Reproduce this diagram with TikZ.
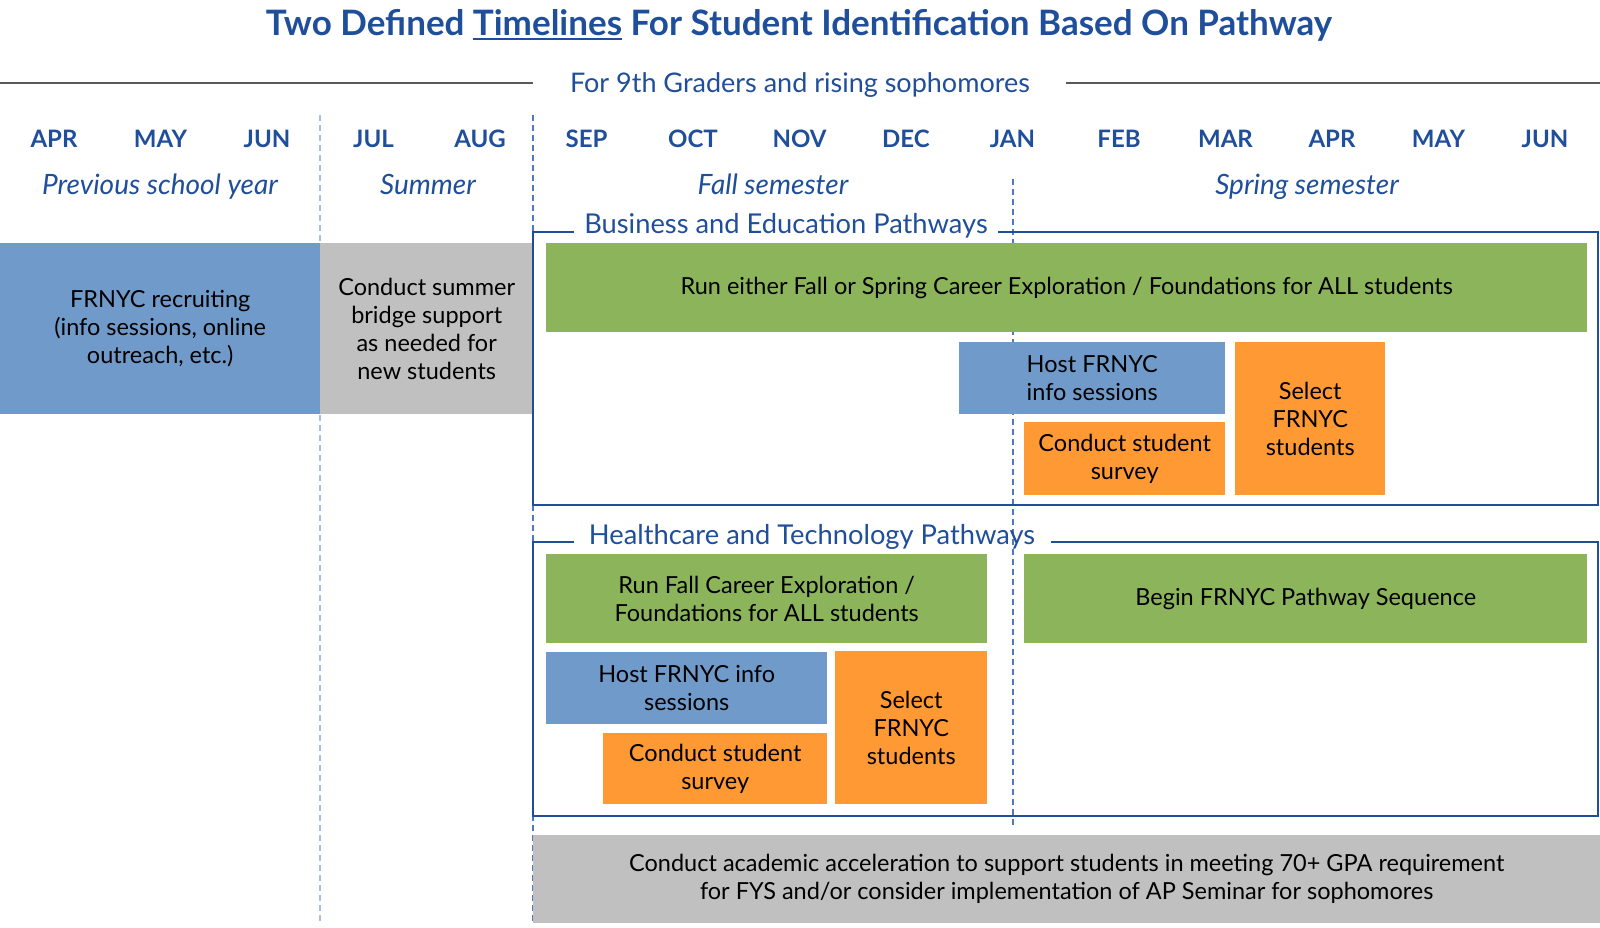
\documentclass[tikz,border=0pt]{standalone}
\usepackage{fontspec}
\setmainfont{Lato}
\definecolor{dblue}{RGB}{31,78,154}
\definecolor{bluebox}{RGB}{112,154,202}
\definecolor{graybox}{RGB}{192,192,192}
\definecolor{greenbox}{RGB}{140,180,91}
\definecolor{orangebox}{RGB}{255,153,51}
\definecolor{rulegray}{RGB}{90,90,90}
\definecolor{dashblue}{RGB}{80,120,190}
\definecolor{dashlight}{RGB}{170,190,225}
\newcommand\ulthick[1]{\setbox0\hbox{#1}\rlap{\raisebox{-5pt}{\rule{\wd0}{1.8pt}}}\box0\relax}
\tikzset{
  box/.style={draw=none, inner sep=0pt, anchor=north west, align=center,
    text=black, font=\fontsize{23.5}{28}\selectfont},
  month/.style={text=dblue, font=\fontsize{24}{28}\selectfont\bfseries},
  period/.style={text=dblue, font=\fontsize{28}{32}\selectfont\itshape, anchor=base, inner sep=0pt},
  ftitle/.style={text=dblue, font=\fontsize{27.3}{32}\selectfont, inner sep=0pt},
  frame/.style={draw=dblue, line width=2pt},
  vdash/.style={draw=dashblue, line width=1.2pt, dash pattern=on 6pt off 4pt},
  vdashlight/.style={draw=dashlight, line width=1.2pt, dash pattern=on 6pt off 4pt},
}
\begin{document}
\begin{tikzpicture}[x=1pt,y=-1pt]
\useasboundingbox (0,0) rectangle (1600,927);

% title
\node[text=dblue, font=\fontsize{35}{40}\selectfont\bfseries] (title) at (799,25) {Two Defined \ulthick{Timelines} For Student Identification Based On Pathway};

% subtitle and rules
\node[text=dblue, font=\fontsize{27}{32}\selectfont, inner sep=0pt] (sub) at (800,85) {For 9th Graders and rising sophomores};
\coordinate (rl0) at (0,83);
\coordinate (rl1) at (533,83);
\coordinate (rr0) at (1066,83);
\coordinate (rr1) at (1600,83);
\draw[rulegray, line width=1.5pt] (rl0) -- (rl1);
\draw[rulegray, line width=1.5pt] (rr0) -- (rr1);

% months
\foreach \m [count=\i from 0] in {APR,MAY,JUN,JUL,AUG,SEP,OCT,NOV,DEC,JAN,FEB,MAR,APR,MAY,JUN}
  \node[month] (m\i) at ({54+106.5*\i},139) {\m};

% periods
\node[period] (prev) at (160,194) {Previous school year};
\node[period] (summer) at (428,194) {Summer};
\node[period] (fall) at (773,194) {Fall semester};
\node[period] (spring) at (1307,194) {Spring semester};

% vertical dashed lines
\coordinate (d1a) at (320,115); \coordinate (d1b) at (320,923);
\coordinate (d2a) at (533,115); \coordinate (d2b) at (533,923);
\coordinate (d3a) at (1013,179); \coordinate (d3b) at (1013,826);
\draw[vdashlight] (d1a) -- (d1b);
\draw[vdash] (d2a) -- (d2b);
\draw[vdash] (d3a) -- (d3b);

% left boxes
\node[box, fill=bluebox, minimum width=320pt, minimum height=171pt] (recruit) at (0,243) {FRNYC recruiting\\(info sessions, online\\outreach, etc.)};
\node[box, fill=graybox, minimum width=213pt, minimum height=171pt] (bridge) at (320,243) {Conduct summer\\bridge support\\as needed for\\new students};

% Business frame
\node[ftitle] (bt) at (786,226) {Business and Education Pathways};
\coordinate (bf1) at (574,232);
\coordinate (bf2) at (533,232);
\coordinate (bf3) at (533,505);
\coordinate (bf4) at (1598,505);
\coordinate (bf5) at (1598,232);
\coordinate (bf6) at (998,232);
\draw[frame] (bf1) -- (bf2) -- (bf3) -- (bf4) -- (bf5) -- (bf6);

\node[box, fill=greenbox, minimum width=1041pt, minimum height=89pt] (brun) at (546,243) {Run either Fall or Spring Career Exploration / Foundations for ALL students};
\node[box, fill=bluebox, minimum width=266pt, minimum height=72pt, align=left] (bhost) at (959,342) {Host FRNYC\\info sessions};
\node[box, fill=orangebox, minimum width=201pt, minimum height=73pt] (bsurvey) at (1024,422) {Conduct student\\survey};
\node[box, fill=orangebox, minimum width=150pt, minimum height=153pt] (bselect) at (1235,342) {Select\\FRNYC\\students};

% Healthcare frame
\node[ftitle] (ht) at (812,537) {Healthcare and Technology Pathways};
\coordinate (hf1) at (574,542);
\coordinate (hf2) at (533,542);
\coordinate (hf3) at (533,816);
\coordinate (hf4) at (1598,816);
\coordinate (hf5) at (1598,542);
\coordinate (hf6) at (1051,542);
\draw[frame] (hf1) -- (hf2) -- (hf3) -- (hf4) -- (hf5) -- (hf6);

\node[box, fill=greenbox, minimum width=441pt, minimum height=89pt] (hrun) at (546,554) {Run Fall Career Exploration /\\Foundations for ALL students};
\node[box, fill=greenbox, minimum width=563pt, minimum height=89pt] (hbegin) at (1024,554) {Begin FRNYC Pathway Sequence};
\node[box, fill=bluebox, minimum width=281pt, minimum height=72pt] (hhost) at (546,652) {Host FRNYC info\\sessions};
\node[box, fill=orangebox, minimum width=224pt, minimum height=71pt] (hsurvey) at (603,733) {Conduct student\\survey};
\node[box, fill=orangebox, minimum width=152pt, minimum height=153pt] (hselect) at (835,651) {Select\\FRNYC\\students};

% bottom
\node[box, fill=graybox, minimum width=1067pt, minimum height=88pt] (accel) at (533,835) {Conduct academic acceleration to support students in meeting 70+ GPA requirement\\for FYS and/or consider implementation of AP Seminar for sophomores};
\end{tikzpicture}
\end{document}
